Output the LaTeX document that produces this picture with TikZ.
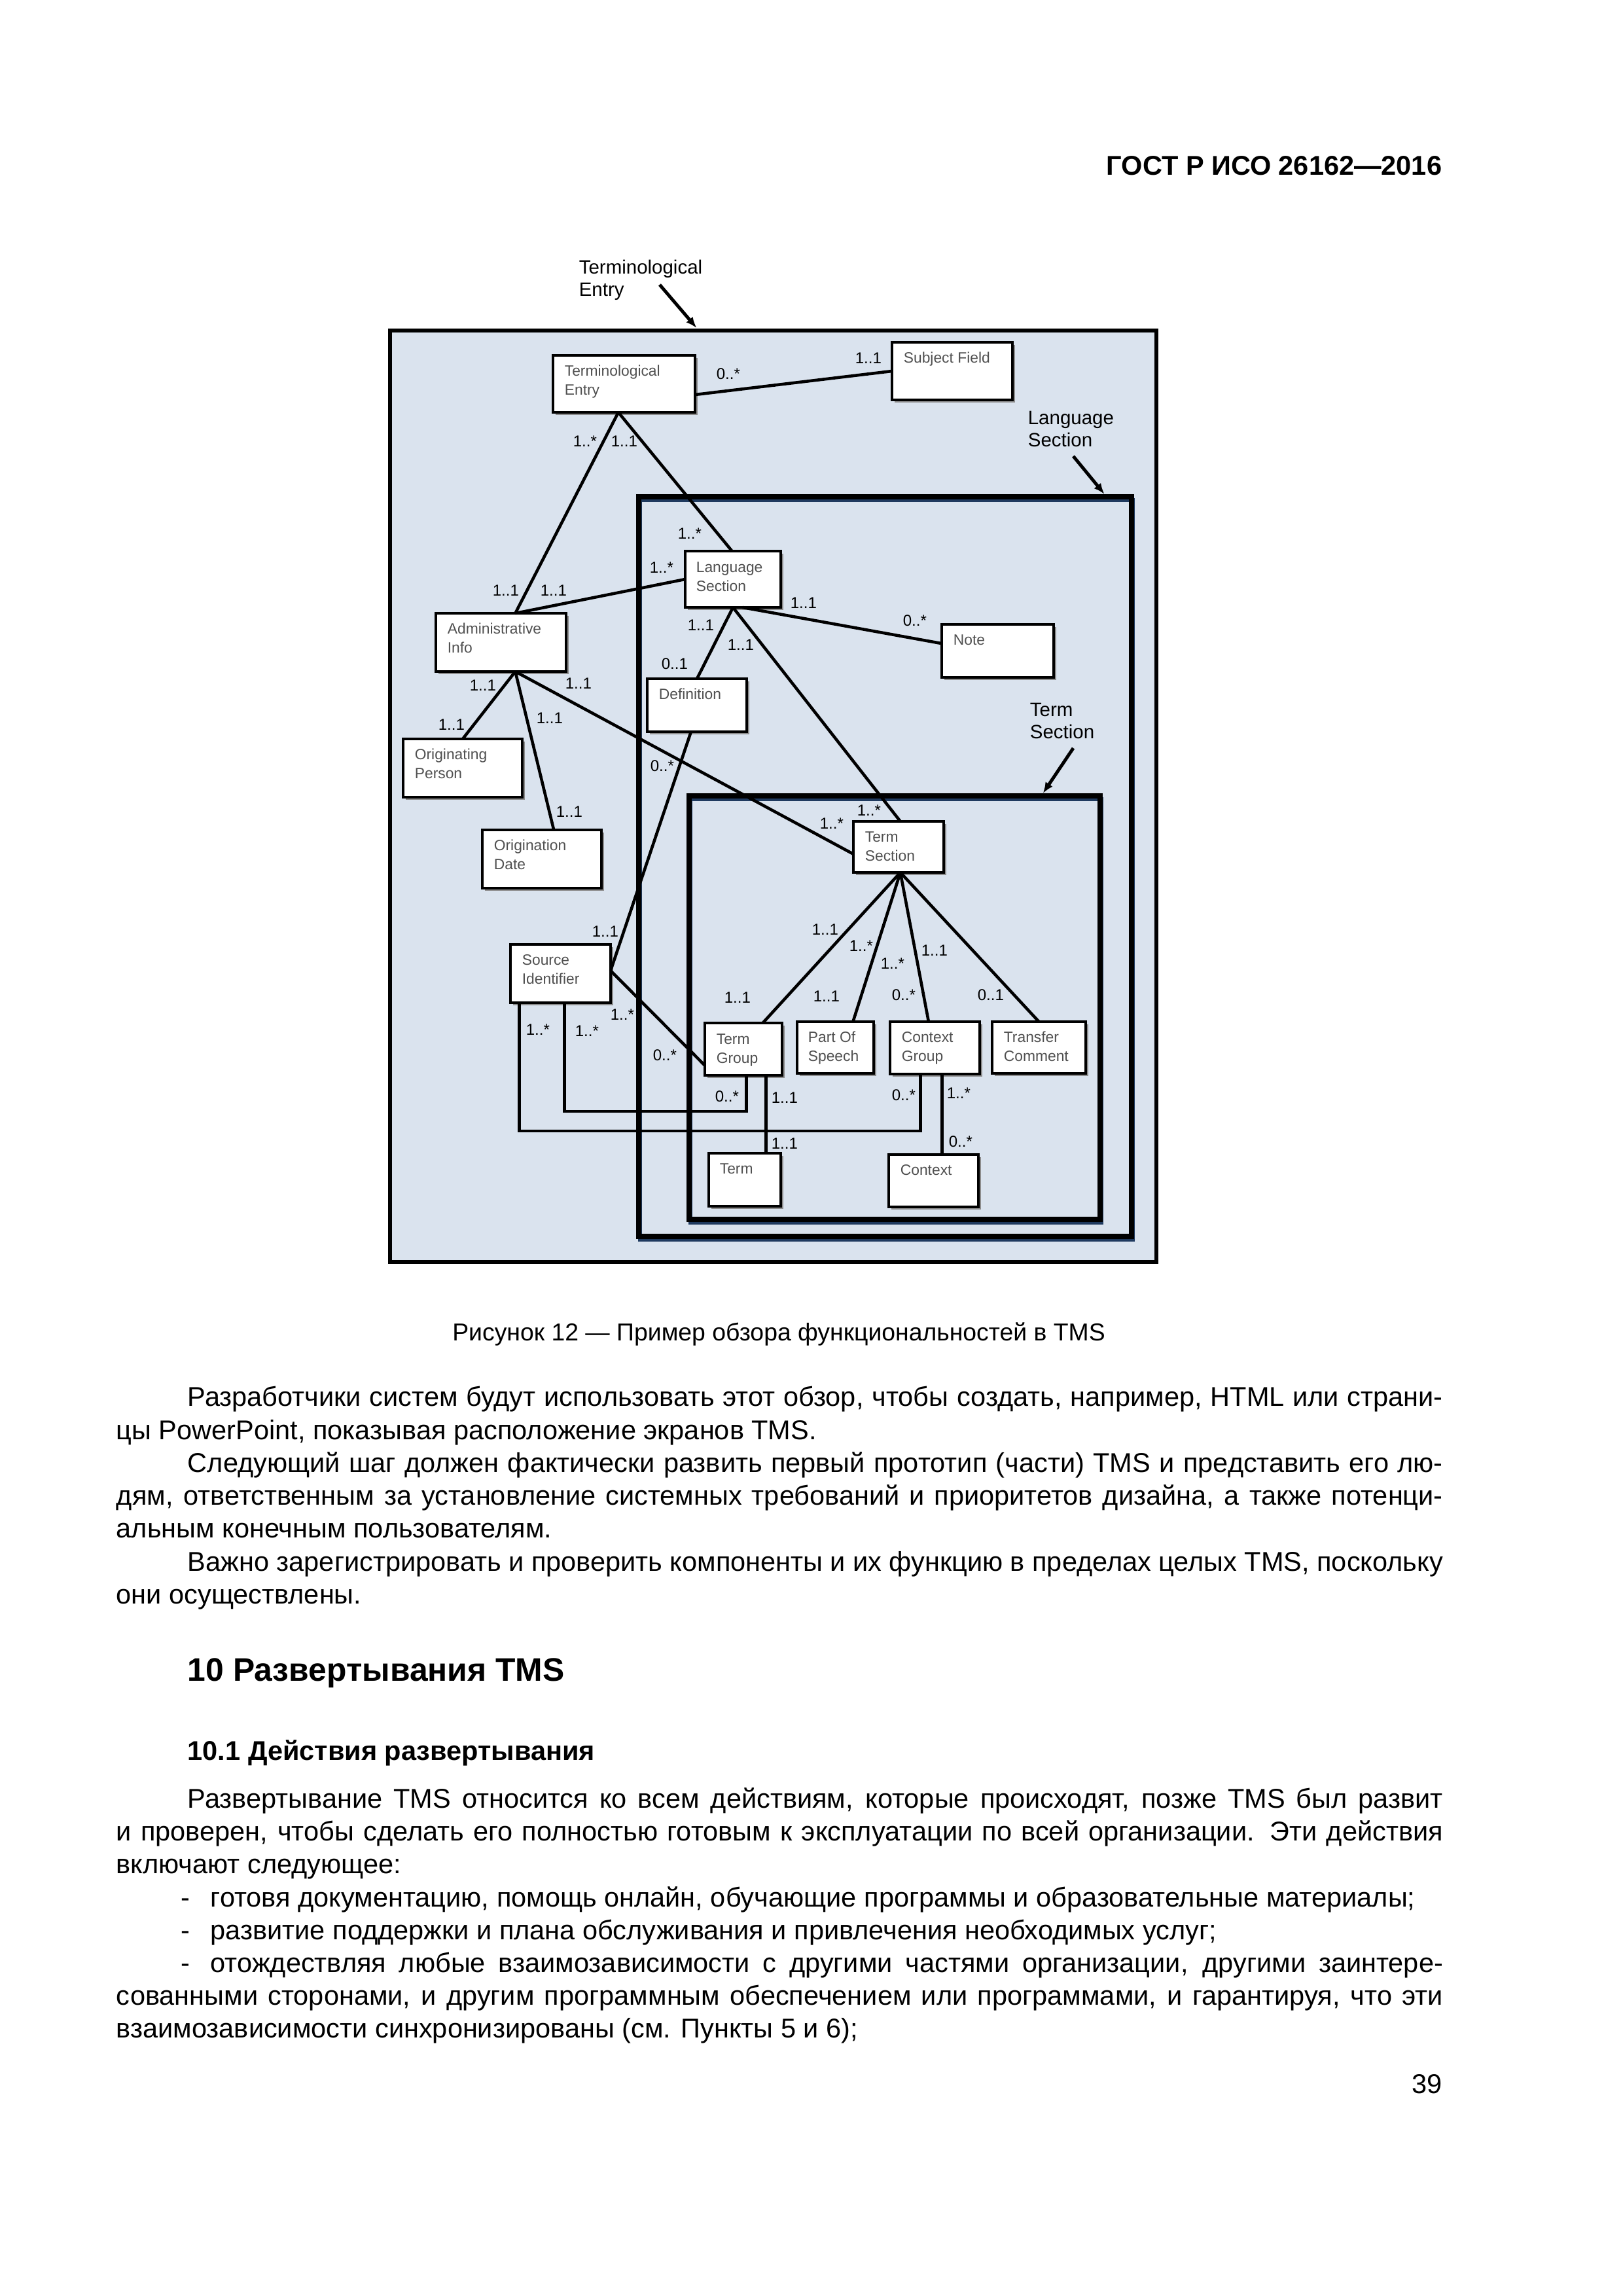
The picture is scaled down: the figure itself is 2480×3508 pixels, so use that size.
\documentclass[tikz,border=0pt]{standalone}
\usepackage{fontspec}
\setmainfont{Liberation Sans}
\usetikzlibrary{calc,arrows.meta,shadows}
\newcommand\pxu{0.2409pt}
\definecolor{panel}{RGB}{218,227,238}
\definecolor{navy}{RGB}{31,58,95}
\definecolor{ntxt}{RGB}{80,80,80}
\definecolor{shad}{RGB}{140,140,140}
\newcommand\tl[2]{\begin{tabular}[t]{@{}l@{}}#1\\#2\end{tabular}}
\newcommand\ebx[5]{\node[ebox, minimum width=#4*\pxu, minimum height=#5*\pxu] (#1) at (#2,#3) {};}
\begin{document}
\begin{tikzpicture}[x=\pxu, y=-\pxu,
  ebox/.style={draw=black, fill=white, line width=0.95pt, inner sep=0, outer sep=0,
    drop shadow={shadow xshift=0.9pt, shadow yshift=-0.9pt, fill=shad, opacity=1}},
  ntext/.style={anchor=base west, inner sep=0, text=ntxt, font=\fontsize{5.5}{7.2}\selectfont},
  olabel/.style={anchor=base west, inner sep=0, font=\fontsize{7.1}{8.4}\selectfont},
  ml/.style={anchor=base west, inner sep=0, font=\fontsize{5.8}{7}\selectfont},
  conn/.style={line width=1.1pt},
  arr/.style={line width=1.2pt, -{Latex[length=4pt, width=3.2pt]}},
  btext/.style={anchor=base west, inner sep=0, font=\fontsize{10}{12}\selectfont},
  cfill/.style={fill=panel, inner sep=0, outer sep=0}
]
\useasboundingbox (0,0) rectangle (2480,3508);

% header
\node[anchor=base east, inner sep=0, font=\bfseries\fontsize{10}{12}\selectfont] (hdr) at (2204,267) {ГОСТ Р ИСО 26162—2016};

% containers
\node[cfill, draw=black, line width=1.45pt, minimum width=1171*\pxu, minimum height=1423*\pxu] (OUT) at (1181.5,1216.5) {};
\node[cfill, minimum width=753*\pxu, minimum height=1130*\pxu] (LSC) at (1352.5,1324) {};
\draw[navy, line width=1.3pt] ($(LSC.north west)+(2,5)$) rectangle ($(LSC.south east)+(2,5)$);
\draw[black, line width=1.75pt] (LSC.north west) rectangle (LSC.south east);
\node[cfill, minimum width=628*\pxu, minimum height=647*\pxu] (TSC) at (1367,1539.5) {};
\draw[navy, line width=1.3pt] ($(TSC.north west)+(2,5)$) rectangle ($(TSC.south east)+(2,5)$);
\draw[black, line width=1.75pt] (TSC.north west) rectangle (TSC.south east);

% container labels and arrows
\node[olabel] (lTE) at (884,418) {\tl{Terminological}{Entry}};
\node[olabel] (lLS) at (1570,648) {\tl{Language}{Section}};
\node[olabel] (lTS) at (1573,1094) {\tl{Term}{Section}};
\coordinate (aTE) at (1008,435);
\coordinate (aLS) at (1640,697);
\coordinate (aTS) at (1640,1143);
\draw[arr] (aTE) -- ($(OUT.north west)!0.40!(OUT.north east)+(0,-4)$);
\draw[arr] (aLS) -- ($(LSC.north west)!0.945!(LSC.north east)+(0,-4)$);
\draw[arr] (aTS) -- ($(TSC.north west)!0.861!(TSC.north east)+(0,-4)$);

% entity boxes
\ebx{TE}{953.5}{586.5}{217}{87}
\ebx{SF}{1455}{567}{184}{88}
\ebx{LS}{1120}{885}{146}{86}
\ebx{AI}{765.5}{981.5}{199}{89}
\ebx{Note}{1524.5}{994.5}{171}{81}
\ebx{Def}{1065}{1077.5}{152}{81}
\ebx{OP}{707}{1173.5}{182}{89}
\ebx{OD}{828}{1312.5}{182}{89}
\ebx{TS}{1373}{1294}{138}{78}
\ebx{SI}{856.5}{1487.5}{153}{89}
\ebx{TG}{1136}{1603}{118}{80}
\ebx{PoS}{1276.5}{1600.5}{117}{79}
\ebx{CG}{1428.5}{1601}{137}{80}
\ebx{TC}{1587.5}{1600.5}{143}{79}
\ebx{Term}{1138}{1802.5}{110}{81}
\ebx{Ctx}{1426.5}{1804}{137}{80}

% connector end points
\coordinate (teR) at ($(TE.north east)!0.69!(TE.south east)$);
\coordinate (teB) at ($(TE.south west)!0.46!(TE.south east)$);
\coordinate (aiT) at ($(AI.north west)!0.61!(AI.north east)$);
\coordinate (lsT) at ($(LS.north west)!0.49!(LS.north east)$);
\coordinate (lsB) at ($(LS.south west)!0.5!(LS.south east)$);
\coordinate (lsBn) at ($(LS.south west)!0.6!(LS.south east)$);
\coordinate (noteL) at ($(Note.north west)!0.36!(Note.south west)$);
\coordinate (tsT) at ($(TS.north west)!0.52!(TS.north east)$);
\coordinate (aiB) at ($(AI.south west)!0.61!(AI.south east)$);
\coordinate (odT) at ($(OD.north west)!0.6!(OD.north east)$);
\coordinate (tsL) at ($(TS.north west)!0.64!(TS.south west)$);
\coordinate (defB) at ($(Def.south west)!0.44!(Def.south east)$);
\coordinate (siR) at ($(SI.north east)!0.45!(SI.south east)$);
\coordinate (tgL) at ($(TG.north west)!0.81!(TG.south west)$);
\coordinate (siB1) at ($(SI.south west)!0.09!(SI.south east)$);
\coordinate (siB2) at ($(SI.south west)!0.54!(SI.south east)$);
\coordinate (cgB1) at ($(CG.south west)!0.34!(CG.south east)$);
\coordinate (tgB1) at ($(TG.south west)!0.54!(TG.south east)$);
\coordinate (lowA) at (0,1728);
\coordinate (lowB) at (0,1698);
\coordinate (tsB) at ($(TS.south west)!0.52!(TS.south east)$);
\coordinate (tgT) at ($(TG.north west)!0.75!(TG.north east)$);
\coordinate (posT) at ($(PoS.north west)!0.73!(PoS.north east)$);
\coordinate (cgT) at ($(CG.north west)!0.43!(CG.north east)$);
\coordinate (tgB2) at ($(TG.south west)!0.79!(TG.south east)$);
\coordinate (cgB2) at ($(CG.south west)!0.58!(CG.south east)$);

% connectors
\draw[conn] (teR) -- (SF.west);
\draw[conn] (teB) -- (aiT);
\draw[conn] (teB) -- (lsT);
\draw[conn] (aiT) -- (LS.west);
\draw[conn] (lsBn) -- (noteL);
\draw[conn] (lsB) -- (Def.north);
\draw[conn] (lsB) -- (tsT);
\draw[conn] (aiB) -- (OP.north);
\draw[conn] (aiB) -- (odT);
\draw[conn] (aiB) -- (tsL);
\draw[conn] (defB) -- (siR);
\draw[conn] (siR) -- (tgL);
\draw[conn] (siB1) -- (siB1 |- lowA) -- (cgB1 |- lowA) -- (cgB1);
\draw[conn] (siB2) -- (siB2 |- lowB) -- (tgB1 |- lowB) -- (tgB1);
\draw[conn] (tsB) -- (tgT);
\draw[conn] (tsB) -- (posT);
\draw[conn] (tsB) -- (cgT);
\draw[conn] (tsB) -- (TC.north);
\draw[conn] (tgB2) -- (tgB2 |- Term.north);
\draw[conn] (cgB2) -- (cgB2 |- Ctx.north);

% box texts
\node[ntext] (tTE) at ($(TE.north west)+(17,31)$) {\tl{Terminological}{Entry}};
\node[ntext] (tSF) at ($(SF.north west)+(17,31)$) {Subject Field};
\node[ntext] (tLS) at ($(LS.north west)+(16,32)$) {\tl{Language}{Section}};
\node[ntext] (tAI) at ($(AI.north west)+(17,31)$) {\tl{Administrative}{Info}};
\node[ntext] (tNote) at ($(Note.north west)+(17,31)$) {Note};
\node[ntext] (tDef) at ($(Def.north west)+(17,31)$) {Definition};
\node[ntext] (tOP) at ($(OP.north west)+(17,31)$) {\tl{Originating}{Person}};
\node[ntext] (tOD) at ($(OD.north west)+(17,31)$) {\tl{Origination}{Date}};
\node[ntext] (tTS) at ($(TS.north west)+(17,31)$) {\tl{Term}{Section}};
\node[ntext] (tSI) at ($(SI.north west)+(17,31)$) {\tl{Source}{Identifier}};
\node[ntext] (tTG) at ($(TG.north west)+(17,32)$) {\tl{Term}{Group}};
\node[ntext] (tPoS) at ($(PoS.north west)+(16,31)$) {\tl{Part Of}{Speech}};
\node[ntext] (tCG) at ($(CG.north west)+(17,31)$) {\tl{Context}{Group}};
\node[ntext] (tTC) at ($(TC.north west)+(17,31)$) {\tl{Transfer}{Comment}};
\node[ntext] (tTerm) at ($(Term.north west)+(16,31)$) {Term};
\node[ntext] (tCtx) at ($(Ctx.north west)+(17,31)$) {Context};

% multiplicities
\foreach \mx/\my/\mt [count=\i] in {
 1094/579/0..*, 1306/555/1..1, 875/682/1..*, 933/682/1..1,
 1035/823/1..*, 992/875/1..*, 752/910/1..1, 825/910/1..1,
 1207/929/1..1, 1379/956/0..*, 1050/963/1..1, 1111/993/1..1,
 1010/1022/0..1, 717/1055/1..1, 863/1052/1..1, 819/1105/1..1,
 669/1115/1..1, 993/1178/0..*, 849/1248/1..1, 1309/1246/1..*,
 1252/1266/1..*, 904/1431/1..1, 1240/1428/1..1, 1297/1453/1..*,
 1407/1460/1..1, 1345/1480/1..*, 1106/1532/1..1, 1242/1530/1..1,
 1362/1528/0..*, 1493/1528/0..1, 932/1558/1..*, 803/1581/1..*,
 878/1583/1..*, 997/1620/0..*, 1092/1683/0..*, 1178/1685/1..1,
 1362/1681/0..*, 1446/1678/1..*, 1178/1755/1..1, 1449/1752/0..*}
 {\node[ml] (m\i) at (\mx,\my) {\mt};}

% caption
\node[anchor=base, inner sep=0, font=\fontsize{9}{11}\selectfont] (cap) at (1190,2048) {Рисунок 12 — Пример обзора функциональностей в TMS};

% body text
\node[btext] (b1) at (286,2148) {\makebox[462.05pt][s]{Разработчики систем будут использовать этот обзор, чтобы создать, например, HTML или страни-}};
\node[btext] (b2) at (177,2199) {цы PowerPoint, показывая расположение экранов TMS.};
\node[btext] (b3) at (286,2249) {\makebox[462.05pt][s]{Следующий шаг должен фактически развить первый прототип (части) TMS и представить его лю-}};
\node[btext] (b4) at (177,2299) {\makebox[488.31pt][s]{дям, ответственным за установление системных требований и приоритетов дизайна, а также потенци-}};
\node[btext] (b5) at (177,2349) {альным конечным пользователям.};
\node[btext] (b6) at (286,2400) {\makebox[462.05pt][s]{Важно зарегистрировать и проверить компоненты и их функцию в пределах целых TMS, поскольку}};
\node[btext] (b7) at (177,2450) {они осуществлены.};

\node[anchor=base west, inner sep=0, font=\bfseries\fontsize{12}{14}\selectfont] (h1) at (286,2568) {10 Развертывания TMS};
\node[anchor=base west, inner sep=0, font=\bfseries\fontsize{10}{12}\selectfont] (h2) at (286,2689) {10.1 Действия развертывания};

\node[btext] (c1) at (286,2762) {\makebox[462.05pt][s]{Развертывание TMS относится ко всем действиям, которые происходят, позже TMS был развит}};
\node[btext] (c2) at (177,2812) {\makebox[488.31pt][s]{и проверен, чтобы сделать его полностью готовым к эксплуатации по всей организации. Эти действия}};
\node[btext] (c3) at (177,2862) {включают следующее:};
\node[btext] (c4) at (276,2913) {-\hspace{7.5pt}готовя документацию, помощь онлайн, обучающие программы и образовательные материалы;};
\node[btext] (c5) at (276,2963) {-\hspace{7.5pt}развитие поддержки и плана обслуживания и привлечения необходимых услуг;};
\node[btext] (c6) at (276,3013) {\makebox[464.46pt][s]{-\hspace{7.5pt}отождествляя любые взаимозависимости с другими частями организации, другими заинтере-}};
\node[btext] (c7) at (177,3063) {\makebox[488.31pt][s]{сованными сторонами, и другим программным обеспечением или программами, и гарантируя, что эти}};
\node[btext] (c8) at (177,3113) {взаимозависимости синхронизированы (см. Пункты 5 и 6);};

\node[anchor=base east, inner sep=0, font=\fontsize{10}{12}\selectfont] (pg) at (2204,3198) {39};
\end{tikzpicture}
\end{document}
